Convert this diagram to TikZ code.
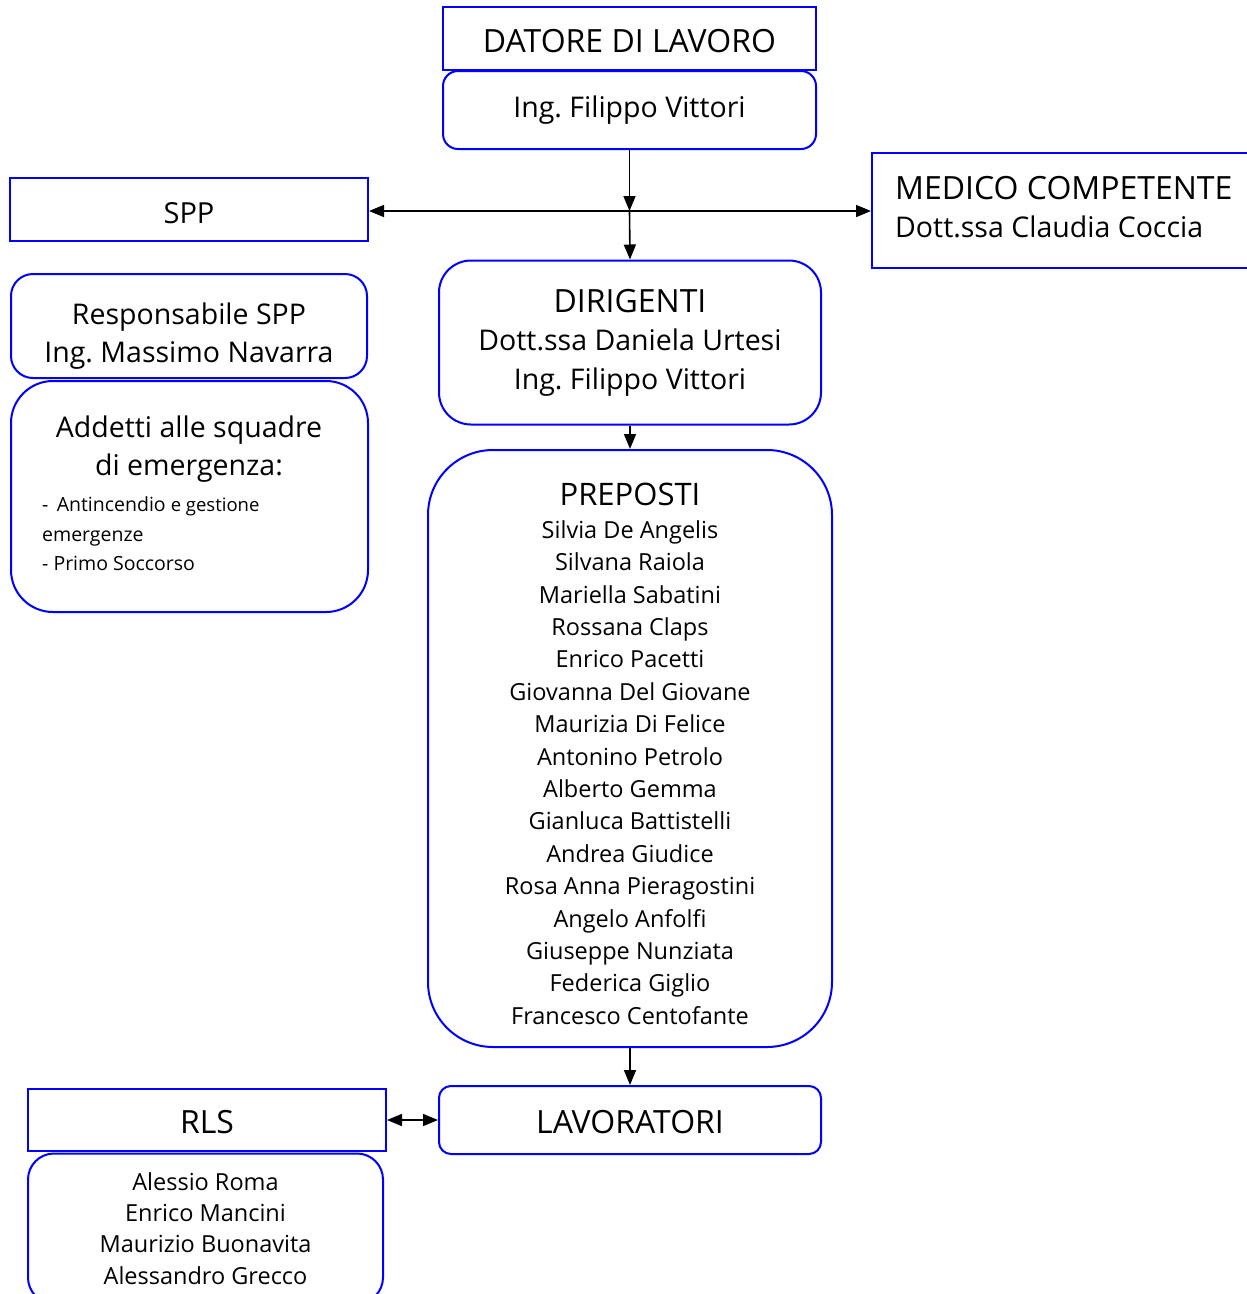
\documentclass[tikz,border=0pt]{standalone}
\usepackage{fontspec}
\setmainfont{Open Sans}
\usetikzlibrary{arrows.meta}
\frenchspacing

\newcommand{\capfont}{\fontsize{32}{38}\selectfont}
\newcommand{\bigfont}{\fontsize{28.5}{38}\selectfont}
\newcommand{\namefont}{\fontsize{23.5}{32.4}\selectfont}
\newcommand{\rlsfont}{\fontsize{23.5}{31.3}\selectfont}
\newcommand{\smallfont}{\fontsize{19.5}{29.5}\selectfont}

\begin{document}
\begin{tikzpicture}[x=1pt,y=-1pt,
  sqbox/.style={draw=blue, line width=2pt, inner sep=0pt, align=center, font=\capfont,
    text height=27pt, text depth=0pt},
  rbox/.style={draw=blue, line width=2pt, inner sep=0pt, align=center, font=\bigfont, rounded corners=#1},
  rbox/.default=15pt,
  txt/.style={inner sep=0pt, align=center},
  arr/.style={-{Triangle[width=12pt,length=15pt]}, line width=1.6pt, black},
  darr/.style={{Triangle[width=12pt,length=15pt]}-{Triangle[width=12pt,length=15pt]}, line width=1.6pt, black}]
\useasboundingbox (0,0) rectangle (1247,1294);

% top of the chart
\node[sqbox, minimum width=373pt, minimum height=63pt] (datore) at (629.5,38.5) {DATORE DI LAVORO};
\node[rbox, minimum width=373pt, minimum height=78pt] (filippo) at (629.5,110) {Ing. Filippo Vittori};
\coordinate (hub) at (629.5,211);

\node[sqbox, minimum width=358pt, minimum height=63pt, font=\fontsize{29}{38}\selectfont] (spp) at (189,209.5) {SPP};
\node[sqbox, minimum width=378pt, minimum height=115pt, text height=, text depth=] (medico) at (1061,210.5) {};
\node[txt, align=left, anchor=west, font=\bigfont] (medicotext) at (895,207)
  {{\capfont MEDICO COMPETENTE}\\Dott.ssa Claudia Coccia};

% left column
\node[rbox=22pt, minimum width=356pt, minimum height=104pt] (resp) at (189,326) {};
\node[txt, font=\bigfont] (resptext) at (189,336) {Responsabile SPP\\Ing. Massimo Navarra};
\node[rbox=42pt, minimum width=357pt, minimum height=231pt] (addetti) at (189.5,496.5) {};
\node[txt, font=\bigfont] (addettihead) at (189,449)
  {Addetti alle squadre\\di emergenza:};
\node[txt, align=left, anchor=north west, font=\smallfont] (addettilist) at (42,496.5)
  {-\, Antincendio {\fontsize{18.5}{29.5}\selectfont e gestione}\\emergenze\\- Primo Soccorso};

% central column
\node[rbox=32pt, minimum width=382pt, minimum height=164pt, font=\fontsize{28.5}{38.5}\selectfont] (dirigenti) at (630,342.5)
  {{\capfont DIRIGENTI}\\Dott.ssa Daniela Urtesi\\Ing. Filippo Vittori};
\node[rbox=65pt, minimum width=404pt, minimum height=597pt] (preposti) at (630,748.5) {};
\node[txt, font=\namefont] (prepostitext) at (630,754)
  {{\fontsize{31}{34}\selectfont PREPOSTI}\\
   Silvia De Angelis\\Silvana Raiola\\Mariella Sabatini\\Rossana Claps\\
   Enrico Pacetti\\Giovanna Del Giovane\\Maurizia Di Felice\\Antonino Petrolo\\
   Alberto Gemma\\Gianluca Battistelli\\Andrea Giudice\\Rosa Anna Pieragostini\\
   Angelo Anfolfi\\Giuseppe Nunziata\\Federica Giglio\\Francesco Centofante};
\node[rbox=12pt, minimum width=382pt, minimum height=68pt, font=\capfont, text height=27pt, text depth=0pt] (lavoratori) at (630,1120) {LAVORATORI};

% bottom left
\node[sqbox, minimum width=358pt, minimum height=62pt] (rls) at (207,1120) {RLS};
\node[rbox=26pt, minimum width=355pt, minimum height=150pt, font=\rlsfont] (rlsnames) at (205.5,1228.5)
  {Alessio Roma\\Enrico Mancini\\Maurizio Buonavita\\Alessandro Grecco};

% connectors
\draw[arr] (filippo.south) -- (hub);
\draw[arr] (hub) -- (dirigenti.north);
\draw[arr] (hub) -- (hub -| spp.east);
\draw[arr] (hub) -- (hub -| medico.west);
\draw[arr] (dirigenti.south) -- (preposti.north);
\draw[arr] (preposti.south) -- (lavoratori.north);
\draw[darr] (rls.east) -- (lavoratori.west);

\end{tikzpicture}
\end{document}
